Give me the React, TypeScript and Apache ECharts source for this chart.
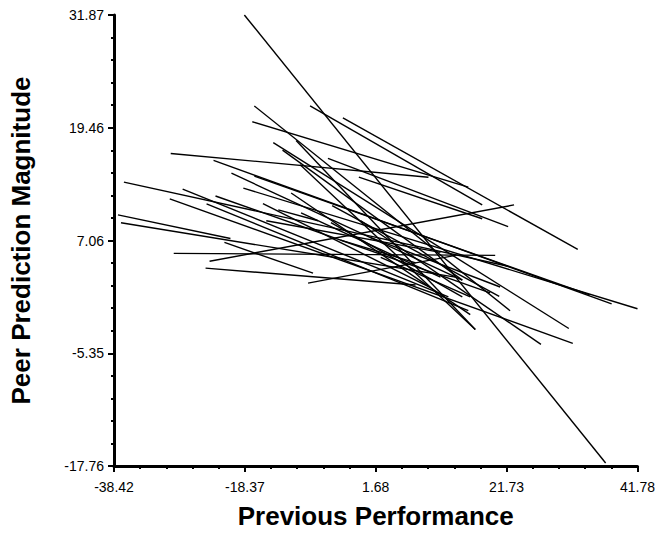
import React, { useEffect, useRef } from "react";
import * as echarts from "echarts";

const xTickLabels = ["-38.42", "-18.37", "1.68", "21.73", "41.78"];
const yTickLabels = ["-17.76", "-5.35", "7.06", "19.46", "31.87"];
const X_MIN = -38.42;
const X_MAX = 41.78;
const Y_MIN = -17.76;
const Y_MAX = 31.87;

// each segment: start (x, y) -> end (x, y)
const startX = [-18.45, -3.35, -8.38, -16.92, -17.23, -14.02, -29.73, -23.17, -5.64, -20.43, -16.92, -0.91, -36.9, -27.9, -18.6, -29.88, -22.87, -24.24, -13.26, -37.81, -37.35, -15.09, -0.61, -21.5, -29.27, -23.78, -24.39, -8.69, -10.52, -12.6, -9.9, -5.0, -15.6, -3.7, -11.28, -5.18, 0.92, 2.44, -9.76];
const startY = [31.87, 20.55, 21.86, 21.86, 20.12, 17.83, 16.63, 15.87, 16.09, 14.46, 14.13, 14.02, 13.48, 12.71, 12.82, 11.63, 11.95, 11.08, 10.43, 9.88, 9.01, 9.23, 9.23, 6.84, 5.64, 4.77, 4.01, 2.37, 18.05, 17.0, 15.4, 10.9, 11.1, 7.1, 12.28, 9.01, 7.38, 5.2, 10.1];
const endX = [36.9, 32.63, 17.99, 22.26, 15.86, 31.26, 9.76, 37.82, 21.96, 14.94, 34.46, 17.99, 21.96, 12.81, 41.78, 31.87, 19.21, 15.86, -7.16, -20.58, 13.88, 11.59, 26.99, -7.93, 19.98, 22.87, 7.78, 13.88, 16.93, 14.94, 16.93, 20.6, 10.0, 7.8, 16.16, 14.94, 20.74, 16.16, 11.59];
const endY = [-17.43, 6.07, 10.97, -0.67, 12.93, -2.63, 14.02, 0.09, 8.58, 2.7, 1.07, 9.45, 4.22, 0.85, -0.46, -4.26, 1.29, -0.67, 9.23, 7.27, 3.03, 5.75, -4.37, 3.46, 5.42, 10.97, 2.16, 5.42, -2.74, 2.7, -2.74, 0.9, 1.9, 4.6, -1.11, 0.85, 1.94, 0.85, 3.03];

const FONT = "'Liberation Sans', Arial, sans-serif";

export default function App() {
  const ref = useRef<HTMLDivElement>(null);
  useEffect(() => {
    const chart = echarts.init(ref.current as HTMLDivElement, null, { renderer: "svg" });
    const xSpan = X_MAX - X_MIN;
    const ySpan = Y_MAX - Y_MIN;
    const xInt = xSpan / 4;
    const yInt = ySpan / 4;
    const series = startX.map((_, i) => ({
      type: "line",
      symbol: "none",
      silent: true,
      lineStyle: { color: "#000", width: 1.4 },
      data: [
        [startX[i] - X_MIN, startY[i] - Y_MIN],
        [endX[i] - X_MIN, endY[i] - Y_MIN],
      ],
    }));
    const axisCommon = {
      type: "value",
      splitLine: { show: false },
      axisLine: { show: true, onZero: false, lineStyle: { color: "#000", width: 3 } },
      axisTick: { show: true, inside: false, length: 6, lineStyle: { color: "#000", width: 2 } },
      minorTick: { show: true, splitNumber: 5, length: 3, lineStyle: { color: "#000", width: 2 } },
      nameTextStyle: { color: "#000", fontSize: 26, fontWeight: "bold", fontFamily: FONT },
    };
    chart.setOption({
      animation: false,
      backgroundColor: "#fff",
      grid: { left: 112, right: 20, top: 15, bottom: 63 },
      xAxis: {
        ...axisCommon,
        min: 0,
        max: xSpan,
        interval: xInt,
        name: "Previous Performance",
        nameLocation: "middle",
        nameGap: 37,
        axisLabel: {
          color: "#000",
          fontSize: 14,
          fontFamily: FONT,
          margin: 14,
          formatter: (v: number) => xTickLabels[Math.round(v / xInt)] ?? "",
        },
      },
      yAxis: {
        ...axisCommon,
        min: 0,
        max: ySpan,
        interval: yInt,
        name: "Peer Prediction Magnitude",
        nameLocation: "middle",
        nameGap: 80,
        axisLabel: {
          color: "#000",
          fontSize: 14,
          fontFamily: FONT,
          margin: 10,
          formatter: (v: number) => yTickLabels[Math.round(v / yInt)] ?? "",
        },
      },
      series,
    });
    return () => chart.dispose();
  }, []);
  return (
    <div
      ref={ref}
      style={{ position: "absolute", left: 0, top: 0, width: 658, height: 534 }}
    />
  );
}
